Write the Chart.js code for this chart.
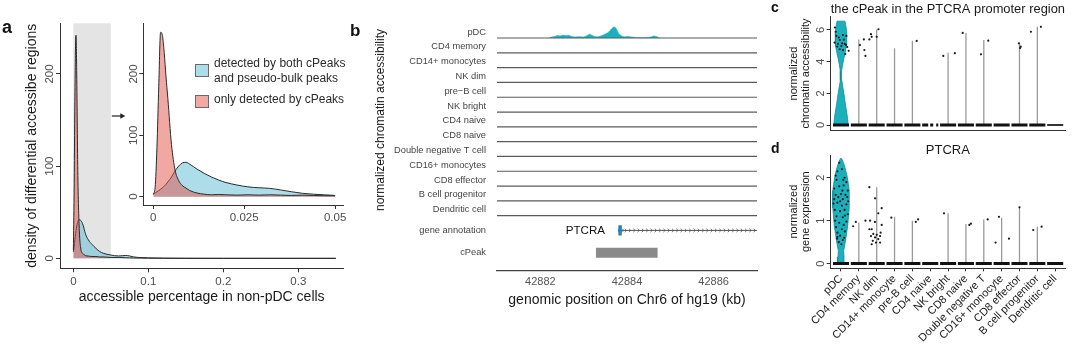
<!DOCTYPE html>
<html>
<head>
<meta charset="utf-8">
<script src="https://cdn.jsdelivr.net/npm/chart.js@4.4.1/dist/chart.umd.min.js"></script>
<style>
  html, body { margin:0; padding:0; background:#fff; }
  body { width:1080px; height:344px; position:relative; overflow:hidden; font-family:"Liberation Sans", Arial, Helvetica, sans-serif; }
  canvas { position:absolute; }
  .tag { position:absolute; font-weight:bold; line-height:1; color:#111; }
  .legtxt { position:absolute; font-size:12px; line-height:15px; color:#2b2b2b; white-space:nowrap; }
  .legbox { position:absolute; width:12px; height:11px; border:1px solid #6a6a6a; }
  .vtitle { position:absolute; width:200px; font-size:12px; line-height:14px; color:#1a1a1a; white-space:nowrap; text-align:center; transform:rotate(-90deg); }
</style>
</head>
<body>
<canvas id="aMain" width="360" height="344" style="left:0;top:0"></canvas>
<canvas id="aInset" width="260" height="240" style="left:100px;top:0"></canvas>
<canvas id="bTracks" width="400" height="344" style="left:360px;top:0"></canvas>
<canvas id="cViolin" width="320" height="140" style="left:760px;top:0"></canvas>
<canvas id="dViolin" width="320" height="204" style="left:760px;top:140px"></canvas>

<div class="tag" style="left:2px;top:18px;font-size:18px">a</div>
<div class="tag" style="left:350px;top:22px;font-size:17px">b</div>
<div class="tag" style="left:771px;top:0px;font-size:14px">c</div>
<div class="tag" style="left:771px;top:141px;font-size:14px">d</div>

<div class="legbox" style="left:195px;top:64px;background:#addde8"></div>
<div class="legtxt" style="left:214px;top:56px">detected by both cPeaks<br>and pseudo-bulk peaks</div>
<div class="legbox" style="left:195px;top:95px;background:#f2a8a3"></div>
<div class="legtxt" style="left:214px;top:92px">only detected by cPeaks</div>

<div class="vtitle" style="left:280px;top:113px">normalized chromatin accessibility</div>

<script>
// ---------------- data: panel a ----------------
const aMainX    = [0,0.001,0.002,0.003,0.0036,0.0045,0.006,0.008,0.01,0.013,0.016,0.02,0.025,0.03,0.035,0.04,0.05,0.06,0.065,0.07,0.075,0.08,0.09,0.1,0.12,0.15,0.2,0.25,0.3,0.35];
const aMainBoth = [7,12,20,27,30,35,40,42,41,36,27,20,15,11,7.5,5.5,3.6,2.6,2.8,3.2,2.6,1.6,0.8,0.5,0.2,0.1,0,0,0,0];
const aMainOnly = [9,70,170,235,242,200,90,30,10,5,3,2.5,2,2,1.5,1.5,1,1,0.8,0.7,0.5,0.4,0.3,0.2,0.1,0,0,0,0,0];
const aInsetX    = [0,0.0005,0.001,0.0015,0.002,0.0025,0.003,0.0035,0.004,0.005,0.006,0.007,0.008,0.009,0.010,0.012,0.014,0.016,0.018,0.020,0.023,0.026,0.029,0.032,0.035,0.038,0.041,0.044,0.047,0.050];
const aInsetBoth = [4,6,8,10,12,14.5,17,20,24,32,42,50,55,56,53,45,38,32,27,23,19,16,14.5,13.5,11,8,5.5,4,3,2];
const aInsetOnly = [4,15,80,180,268,263,235,195,160,85,43,26,18,14,10,6,4,3,3.5,3,2.5,3,2.5,3,2.5,2,2.5,2,1.5,1.5];
const aMainXTicks = [0,0.1,0.2,0.3];
const aMainYTicks = [0,100,200];
const aInsetXTicks = [0,0.025,0.05];
const aInsetYTicks = [0,100,200];
const aZoomRange = [0,0.05];

// ---------------- data: panel b ----------------
const bCellTypes = ['pDC','CD4 memory','CD14+ monocytes','NK dim','pre\u2212B cell','NK bright','CD4 naive','CD8 naive','Double negative T cell','CD16+ monocytes','CD8 effector','B cell progenitor','Dendritic cell'];
const bPdcPos = [42882.20,42882.26,42882.33,42882.40,42882.46,42882.52,42882.58,42882.65,42882.72,42882.80,42882.90,42883.00,42883.08,42883.14,42883.20,42883.28,42883.36,42883.45,42883.52,42883.58,42883.64,42883.70,42883.75,42883.80,42883.86,42883.94,42884.02,42884.10,42884.20,42884.30,42884.40,42884.55,42884.62,42884.68,42884.75];
const bPdcSignal = [0,0.07,0.1,0.17,0.14,0.2,0.17,0.19,0.1,0.07,0.08,0.07,0.17,0.26,0.17,0.08,0.1,0.2,0.3,0.41,0.61,0.74,0.64,0.34,0.17,0.08,0.1,0.07,0.04,0.02,0.02,0.07,0.14,0.1,0];
const bRange = [42881, 42887];
const bXTicks = [42882,42884,42886];
const bGeneName = 'PTCRA';
const bGeneSpan = [42883.84, 42887];
const bExonPos = 42883.84;
const bPeakSpan = [42883.28, 42884.71];

// ---------------- data: panels c, d ----------------
const cdCategories = ['pDC','CD4 memory','NK dim','CD14+ monocyte','pre-B cell','CD4 naive','NK bright','CD8 naive','Double negative T','CD16+ monocyte','CD8 effector','B cell progenitor','Dendritic cell'];
const cMax = [6.55,5.4,6.02,4.84,5.31,null,4.56,5.81,5.36,null,5.15,6.19,null];
const dMax = [2.45,0.95,1.78,1.09,1.0,null,1.17,0.92,1.03,1.07,1.31,0.86,null];
const cViolinLevels = [0,0.4,0.8,1.2,1.6,2.0,2.4,2.8,3.1,3.4,3.8,4.2,4.6,5.0,5.4,5.8,6.2,6.55];
const cViolinHalfWidth = [0.40,0.37,0.32,0.26,0.21,0.16,0.1,0.05,0.02,0.04,0.09,0.16,0.24,0.3,0.32,0.32,0.28,0.22];
const dViolinLevels = [0,0.15,0.3,0.55,0.9,1.3,1.7,2.0,2.2,2.35,2.45];
const dViolinHalfWidth = [0.2,0.17,0.15,0.26,0.38,0.46,0.46,0.36,0.25,0.14,0.03];
const cDotX = [-0.34,-0.26,-0.36,-0.07,0.11,0.30,-0.17,0.06,0.21,-0.07,0.11,0.35,0.43,0.24,-0.21,0.02,-0.12,0.28,-0.30,0.16,1.06,1.28,1.31,1.37,1.59,1.68,1.72,2.00,2.10,4.24,5.73,6.38,6.82,7.84,8.25,9.97,10.07,10.03,10.64,11.20];
const cDotY = [6.15,5.62,5.20,5.36,5.67,5.62,5.12,5.15,5.12,4.78,4.72,4.92,4.68,4.48,4.95,4.98,5.52,5.05,5.88,5.38,5.04,5.40,4.73,4.36,5.40,5.73,5.56,5.56,6.04,5.30,4.36,4.53,5.81,4.46,5.32,5.15,4.94,4.85,5.88,6.19];
const dDotX = [-0.30,-0.10,0.05,0.20,-0.25,0.30,-0.38,-0.10,0.15,0.38,-0.30,0.00,0.25,-0.15,0.10,0.40,-0.42,-0.20,0.30,0.05,-0.35,-0.05,0.20,0.38,-0.25,0.10,-0.33,0.30,-0.10,0.15,-0.28,0.05,0.22,-0.20,-0.05,0.18,-0.22,0.10,-0.12,0.02,-0.20,0.35,-0.20,0.12,-0.05,0.22,-0.38,0.08,
  0.68,0.83,1.37,
  1.59,1.91,2.09,2.28,1.63,1.90,1.59,1.72,1.81,1.68,1.91,2.00,2.09,2.19,1.78,1.96,1.72,2.19,2.22,2.28,
  2.82,4.19,4.32,5.77,7.19,7.28,8.22,8.85,8.66,9.41,10.00,10.77,11.24];
const dDotY = [2.05,2.35,2.20,2.00,1.95,1.90,1.75,1.80,1.82,1.70,1.60,1.62,1.60,1.55,1.50,1.45,1.40,1.42,1.38,1.35,1.25,1.22,1.25,1.15,1.10,1.08,1.00,0.98,0.95,0.90,0.85,0.80,0.75,0.72,0.65,0.60,0.58,0.55,0.50,0.45,0.62,1.55,2.15,1.95,1.45,1.12,1.50,1.70,
  0.87,0.97,1.00,
  1.78,1.52,1.17,1.29,1.00,0.97,0.80,0.80,0.69,0.64,0.61,0.67,0.57,0.64,0.53,0.49,0.45,0.49,0.72,0.90,
  1.07,0.97,1.03,1.17,0.90,0.93,1.03,1.09,0.49,0.58,1.31,0.78,0.86];
const cYTicks = [0,2,4,6];
const dYTicks = [0,1,2];
const cTitle = 'the cPeak in the PTCRA promoter region';
const dTitle = 'PTCRA';

// ---------------- helpers ----------------
const FONT = '"Liberation Sans", Arial, Helvetica, sans-serif';
Chart.defaults.font.family = FONT;
Chart.defaults.color = '#4d4d4d';
const AXIS = '#333';
const TEAL = '#1bb1bc', TEAL_DARK = '#0f8a94';
const BLUE_FILL = 'rgba(91,187,209,0.5)';
const RED_FILL = 'rgba(228,80,70,0.5)';

const fixWidth = w => s => { s.width = w; };
const fixHeight = h => s => { s.height = h; };
const setTicks = vals => s => { s.ticks = vals.map(v => ({ value: v })); };
const pts = (xs, ys) => xs.map((x, i) => ({ x, y: ys[i] }));

function baseOpts(pad) {
  return { responsive:false, maintainAspectRatio:false, animation:false, devicePixelRatio:1, events:[],
    layout:{ padding: pad },
    plugins:{ legend:{display:false}, tooltip:{enabled:false}, title:{display:false} } };
}
const densityDS = (xs, ys, fillColor) => ({ data: pts(xs, ys), borderColor:'#2a2a2a', borderWidth:1,
  backgroundColor: fillColor, fill:'origin', pointRadius:0, cubicInterpolationMode:'monotone' });
const tickGrid = len => ({ display:true, drawOnChartArea:false, drawTicks:true, tickLength:len, color:AXIS, lineWidth:1 });
const noGrid = { display:false, drawTicks:false };

// ---------------- panel a: main ----------------
const shadePlugin = {
  id:'shade',
  beforeDatasetsDraw(chart) {
    const { ctx, chartArea, scales:{ x, y } } = chart;
    const x0 = x.getPixelForValue(aZoomRange[0]), x1 = x.getPixelForValue(aZoomRange[1]);
    const y0 = y.getPixelForValue(0);
    ctx.save(); ctx.fillStyle = '#e4e4e4';
    ctx.fillRect(x0, chartArea.top, x1 - x0, y0 - chartArea.top);
    ctx.restore();
  },
  afterDraw(chart) {
    const { ctx, scales:{ x } } = chart;
    const xs = x.getPixelForValue(aZoomRange[1]);
    const yA = 116;
    ctx.save(); ctx.strokeStyle = '#222'; ctx.fillStyle = '#222'; ctx.lineWidth = 1.2;
    ctx.beginPath(); ctx.moveTo(xs + 1, yA); ctx.lineTo(xs + 11, yA); ctx.stroke();
    ctx.beginPath(); ctx.moveTo(xs + 14.5, yA); ctx.lineTo(xs + 9.5, yA - 2.8); ctx.lineTo(xs + 9.5, yA + 2.8); ctx.closePath(); ctx.fill();
    ctx.restore();
  }
};

new Chart(document.getElementById('aMain'), {
  type:'line',
  data:{ datasets:[ densityDS(aMainX, aMainOnly, RED_FILL), densityDS(aMainX, aMainBoth, BLUE_FILL) ] },
  options: Object.assign(baseOpts({ top:23.3, right:16.7, left:0, bottom:0 }), {
    scales:{
      x:{ type:'linear', min:-0.0178, max:0.36, afterBuildTicks:setTicks(aMainXTicks), afterFit:fixHeight(75.7),
          ticks:{ font:{size:11.5}, color:'#4d4d4d', padding:2.5, maxRotation:0, autoSkip:false, callback:v => String(v) },
          grid:tickGrid(4), border:{ display:true, color:AXIS, width:1 },
          title:{ display:true, text:'accessible percentage in non-pDC cells', font:{size:14}, color:'#1a1a1a', padding:{top:0, bottom:38.6} } },
      y:{ type:'linear', min:-10.8, max:255, afterBuildTicks:setTicks(aMainYTicks), afterFit:fixWidth(60),
          ticks:{ font:{size:11.5}, color:'#4d4d4d', minRotation:90, maxRotation:90, crossAlign:'center', padding:-3.6, autoSkip:false },
          grid:tickGrid(4), border:{ display:true, color:AXIS, width:1 },
          title:{ display:true, text:'density of differential accessibe regions', font:{size:14}, color:'#1a1a1a', padding:{top:23.3, bottom:0} } }
    }
  }),
  plugins:[shadePlugin]
});

// ---------------- panel a: inset ----------------
new Chart(document.getElementById('aInset'), {
  type:'line',
  data:{ datasets:[ densityDS(aInsetX, aInsetOnly, RED_FILL), densityDS(aInsetX, aInsetBoth, BLUE_FILL) ] },
  options: Object.assign(baseOpts({ top:23.3, right:16.7, left:0, bottom:0 }), {
    scales:{
      x:{ type:'linear', min:-0.00275, max:0.05225, afterBuildTicks:setTicks(aInsetXTicks), afterFit:fixHeight(35),
          ticks:{ font:{size:11.5}, color:'#4d4d4d', padding:2.4, maxRotation:0, autoSkip:false, callback:v => String(v) },
          grid:tickGrid(4), border:{ display:true, color:AXIS, width:1 } },
      y:{ type:'linear', min:-13.6, max:282.6, afterBuildTicks:setTicks(aInsetYTicks), afterFit:fixWidth(43.3),
          ticks:{ font:{size:11.5}, color:'#4d4d4d', minRotation:90, maxRotation:90, crossAlign:'center', padding:-4.6, autoSkip:false },
          grid:tickGrid(4), border:{ display:true, color:AXIS, width:1 } }
    }
  })
});

// ---------------- panel b ----------------
const bTrackLabels = [...bCellTypes, 'gene annotation', 'cPeak'];
const bGeneRow = -bCellTypes.length;          // row below the last cell type
const bPeakRow = bGeneRow - 1.5;
const bTickVals = [...bCellTypes.map((_, k) => -k + 0.4), bGeneRow, bPeakRow];

const geneDecor = {
  id:'geneDecor',
  afterDatasetsDraw(chart) {
    const { ctx, chartArea, scales:{ x, y } } = chart;
    const yy = y.getPixelForValue(bGeneRow);
    const x0 = x.getPixelForValue(bGeneSpan[0]);
    ctx.save();
    ctx.strokeStyle = '#555'; ctx.lineWidth = 0.8;
    for (let px = x0 + 6; px < chartArea.right - 1; px += 4.3) {
      ctx.beginPath(); ctx.moveTo(px - 1.4, yy - 1.7); ctx.lineTo(px + 0.4, yy); ctx.lineTo(px - 1.4, yy + 1.7); ctx.stroke();
    }
    ctx.fillStyle = '#111'; ctx.font = '11.6px ' + FONT; ctx.textAlign = 'right'; ctx.textBaseline = 'middle';
    ctx.fillText(bGeneName, x0 - 15, yy + 0.5);
    ctx.restore();
  }
};

const bDatasets = [];
bDatasets.push({ data:[{x:bExonPos, y:bGeneRow - 0.35}, {x:bExonPos, y:bGeneRow + 0.35}], borderColor:'#2f7db8', borderWidth:3.5, pointRadius:0 });
bDatasets.push({ data:[{x:bExonPos - 0.05, y:bGeneRow}, {x:bExonPos + 0.08, y:bGeneRow}], borderColor:'#2f7db8', borderWidth:2.2, pointRadius:0 });
bDatasets.push({ data:[{x:bGeneSpan[0], y:bGeneRow}, {x:bGeneSpan[1], y:bGeneRow}], borderColor:'#555', borderWidth:1, pointRadius:0 });
bDatasets.push({ data:[{x:bPeakSpan[0], y:bPeakRow + 0.33}, {x:bPeakSpan[1], y:bPeakRow + 0.33}], borderWidth:0, borderColor:'rgba(0,0,0,0)', backgroundColor:'#8a8a8a', fill:{ value: bPeakRow - 0.34 }, pointRadius:0 });
bCellTypes.forEach((_, k) => {
  bDatasets.push({ data:[{x:bRange[0], y:-k}, {x:bRange[1], y:-k}], borderColor:'#5a5a5a', borderWidth:1.2, pointRadius:0 });
});
bDatasets.push({ data:pts(bPdcPos, bPdcSignal), borderColor:TEAL, borderWidth:0.6, backgroundColor:TEAL, fill:'origin', pointRadius:0, cubicInterpolationMode:'monotone' });

new Chart(document.getElementById('bTracks'), {
  type:'line',
  data:{ datasets:bDatasets },
  options: Object.assign(baseOpts({ top:24.7, right:3, left:0, bottom:0 }), {
    scales:{
      x:{ type:'linear', min:bRange[0], max:bRange[1], afterBuildTicks:setTicks(bXTicks), afterFit:fixHeight(73.6),
          ticks:{ font:{size:11}, color:'#555', padding:4.7, maxRotation:0, autoSkip:false, callback:v => String(v) },
          grid:noGrid, border:{ display:true, color:'#444', width:1.2 },
          title:{ display:true, text:'genomic position on Chr6 of hg19 (kb)', font:{size:14}, color:'#1a1a1a', padding:{top:0, bottom:35.6} } },
      y:{ type:'linear', min:-15.7, max:0.9, afterBuildTicks:setTicks(bTickVals), afterFit:fixWidth(137),
          ticks:{ font:{size:9.3}, color:'#444', crossAlign:'near', padding:11, autoSkip:false, callback:(v, i) => bTrackLabels[i] },
          grid:noGrid, border:{ display:false } }
    }
  }),
  plugins:[geneDecor]
});

// ---------------- panels c & d ----------------
function violinPolygon(center, levels, hw) {
  const right = levels.map((v, i) => ({ x:center + hw[i], y:v }));
  const left = levels.map((v, i) => ({ x:center - hw[i], y:v })).reverse();
  return [...right, ...left, right[0]];
}
function violinDatasets(maxVals, levels, hw, dotX, dotY, zeroStyle) {
  const ds = [];
  ds.push({ data:pts(dotX, dotY), showLine:false, pointRadius:1.1, pointBackgroundColor:'#1a1a1a', pointBorderWidth:0 });
  cdCategories.forEach((_, i) => {
    ds.push(Object.assign({ data:[{x:i - 0.45, y:0}, {x:i + 0.45, y:0}], borderColor:'#111', borderWidth:3, pointRadius:0, borderCapStyle:'butt' }, zeroStyle[i] || {}));
  });
  maxVals.forEach((m, i) => {
    if (i > 0 && m != null) ds.push({ data:[{x:i, y:0}, {x:i, y:m}], borderColor:'#9a9a9a', borderWidth:1.3, pointRadius:0 });
  });
  ds.push({ data:violinPolygon(0, levels, hw), fill:'shape', backgroundColor:TEAL, borderColor:TEAL_DARK, borderWidth:0.8, pointRadius:0 });
  return ds;
}
const topTitleAxis = (text, h, pad) => ({ type:'linear', position:'top', min:0, max:1, afterFit:fixHeight(h),
  ticks:{ display:false }, grid:noGrid, border:{ display:false },
  title:{ display:true, text, font:{size:13}, color:'#1a1a1a', padding:{top:pad, bottom:0} } });
const yViolinAxis = (min, max, ticks, title) => ({ type:'linear', min, max, afterBuildTicks:setTicks(ticks), afterFit:fixWidth(70.7),
  ticks:{ font:{size:11}, color:'#4d4d4d', minRotation:90, maxRotation:90, crossAlign:'center', padding:3.1, autoSkip:false },
  grid:tickGrid(4), border:{ display:true, color:AXIS, width:1 },
  title:{ display:true, text:title, font:{size:11, lineHeight:1.05}, color:'#1a1a1a', padding:{top:28.2, bottom:0} } });

new Chart(document.getElementById('cViolin'), {
  type:'line',
  data:{ datasets:violinDatasets(cMax, cViolinLevels, cViolinHalfWidth, cDotX, cDotY,
    { 5:{ borderDash:[6,2,3,3] }, 12:{ borderWidth:2, borderColor:'#333' } }) },
  options: Object.assign(baseOpts({ top:0, right:15, left:0, bottom:0 }), {
    scales:{
      x:{ type:'linear', min:-0.577, max:12.55, afterFit:fixHeight(9), ticks:{ display:false }, grid:noGrid, border:{ display:true, color:AXIS, width:1 } },
      x2: topTitleAxis(cTitle, 16.7, 1.2),
      y: yViolinAxis(-0.33, 6.83, cYTicks, ['normalized', 'chromatin accessibility'])
    }
  })
});

new Chart(document.getElementById('dViolin'), {
  type:'line',
  data:{ datasets:violinDatasets(dMax, dViolinLevels, dViolinHalfWidth, dDotX, dDotY, {}) },
  options: Object.assign(baseOpts({ top:0, right:15, left:0, bottom:0 }), {
    scales:{
      x:{ type:'linear', min:-0.577, max:12.55, afterBuildTicks:setTicks(cdCategories.map((_, i) => i)), afterFit:fixHeight(75.7),
          ticks:{ font:{size:11}, color:'#1a1a1a', minRotation:45, maxRotation:45, padding:1, autoSkip:false, callback:(v, i) => cdCategories[i] },
          grid:tickGrid(3), border:{ display:true, color:AXIS, width:1 } },
      x2: topTitleAxis(dTitle, 15, 2.2),
      y: yViolinAxis(-0.11, 2.53, dYTicks, ['normalized', 'gene expression'])
    }
  })
});
</script>
</body>
</html>
